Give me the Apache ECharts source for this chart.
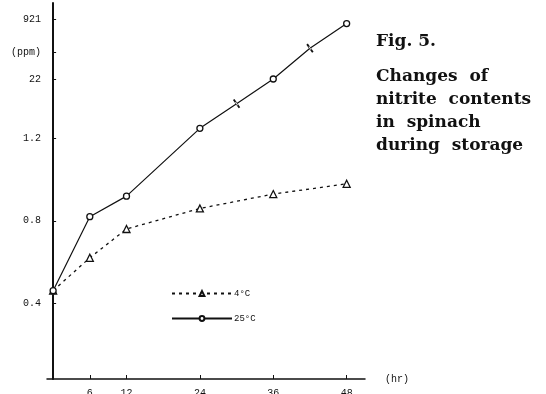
<!DOCTYPE html>
<html>
<head>
<meta charset="utf-8">
<script src="https://cdn.jsdelivr.net/npm/echarts@6/dist/echarts.min.js"></script>
<style>
  html, body { margin: 0; padding: 0; background: #fff; }
  #chart { width: 546px; height: 394px; }
</style>
</head>
<body>
<div id="chart"></div>
<script>
// Storage time (hours) and nitrite content (ppm)
const hours4 = [0, 6, 12, 24, 36, 48];
const ppm4 = [0.46, 0.62, 0.76, 0.86, 0.93, 0.98];

const hours25 = [0, 6, 12, 24, 30, 36, 42, 48];
const ppm25 = [0.46, 0.82, 0.92, 1.25, 1.37, 1.49, 1.64, 1.76];

const seriesNames = ['4°C', '25°C'];

// Axis ticks and their printed labels
const xTickValues = [6, 12, 24, 36, 48];
const xTickLabels = ['6', '12', '24', '36', '48'];
const yTickValues = [0.4, 0.8, 1.2, 1.49, 1.62, 1.78];
const yTickLabels = ['0.4', '0.8', '1.2', '22', '(ppm)', '921'];

const captionTitle = 'Fig. 5.';
const captionLines = ['Changes  of', 'nitrite  contents', 'in  spinach', 'during  storage'];

const ink = '#111';
const tickFont = 'Liberation Mono';

const pairs = (xs, ys) => xs.map((x, i) => [x, ys[i]]);
const lookup = (vals, labels) => v => {
  const i = vals.findIndex(t => Math.abs(t - v) < 1e-6);
  return i >= 0 ? labels[i] : '';
};

// readings between the 12-hour marks are drawn as small cross ticks
const isIntermediate = v => v[0] > 24 && v[0] % 12 === 6;

const chart = echarts.init(document.getElementById('chart'), null, { renderer: 'canvas' });
chart.setOption({
  animation: false,
  backgroundColor: '#fff',
  title: [
    {
      text: captionTitle,
      left: 376, top: 33, padding: 0,
      textStyle: { fontFamily: 'DejaVu Serif', fontWeight: 'bold', fontSize: 17, color: ink }
    },
    {
      text: captionLines.join('\n'),
      left: 376, top: 65, padding: 0,
      textStyle: { fontFamily: 'DejaVu Serif', fontWeight: 'bold', fontSize: 17, color: ink, lineHeight: 23 }
    }
  ],
  legend: {
    orient: 'vertical',
    left: 166, top: 284,
    itemWidth: 60, itemHeight: 6, itemGap: 16,
    data: seriesNames,
    textStyle: { fontFamily: tickFont, fontSize: 9, color: ink, padding: [0, 0, 0, -3] }
  },
  grid: { left: 47, top: 3, right: 181, bottom: 15, containLabel: false, outerBoundsMode: 'none' },
  xAxis: {
    type: 'value',
    min: -1, max: 51,
    name: '(hr)',
    nameLocation: 'end',
    nameGap: 20,
    nameTextStyle: { fontFamily: tickFont, fontSize: 10, color: ink, verticalAlign: 'middle', padding: [4, 0, 0, 0] },
    axisLine: { lineStyle: { color: ink, width: 1.5 } },
    axisTick: { inside: true, length: 4, customValues: xTickValues, lineStyle: { color: ink } },
    axisLabel: {
      customValues: xTickValues,
      formatter: lookup(xTickValues, xTickLabels),
      fontFamily: tickFont, fontSize: 10, color: ink, margin: 9
    },
    splitLine: { show: false }
  },
  yAxis: {
    type: 'value',
    min: 0.03, max: 1.86,
    axisLine: { show: true, lineStyle: { color: ink, width: 2 } },
    axisTick: { inside: true, length: 3, customValues: yTickValues, lineStyle: { color: ink } },
    axisLabel: {
      customValues: yTickValues,
      formatter: lookup(yTickValues, yTickLabels),
      fontFamily: tickFont, fontSize: 10, color: ink, margin: 6
    },
    splitLine: { show: false }
  },
  series: [
    {
      name: seriesNames[0],
      type: 'line',
      data: pairs(hours4, ppm4),
      symbol: 'triangle',
      symbolSize: 7,
      itemStyle: { color: '#fff', borderColor: ink, borderWidth: 1.3 },
      lineStyle: { color: ink, width: 1.3, type: [3, 4] },
      z: 3
    },
    {
      name: seriesNames[1],
      type: 'line',
      data: pairs(hours25, ppm25),
      symbol: v => isIntermediate(v) ? 'rect' : 'circle',
      symbolSize: v => isIntermediate(v) ? [1.3, 7] : 6,
      symbolRotate: v => isIntermediate(v) ? 35 : 0,
      itemStyle: { color: '#fff', borderColor: ink, borderWidth: 1.3 },
      lineStyle: { color: ink, width: 1.2, type: 'solid' },
      z: 4
    }
  ]
});
</script>
</body>
</html>
